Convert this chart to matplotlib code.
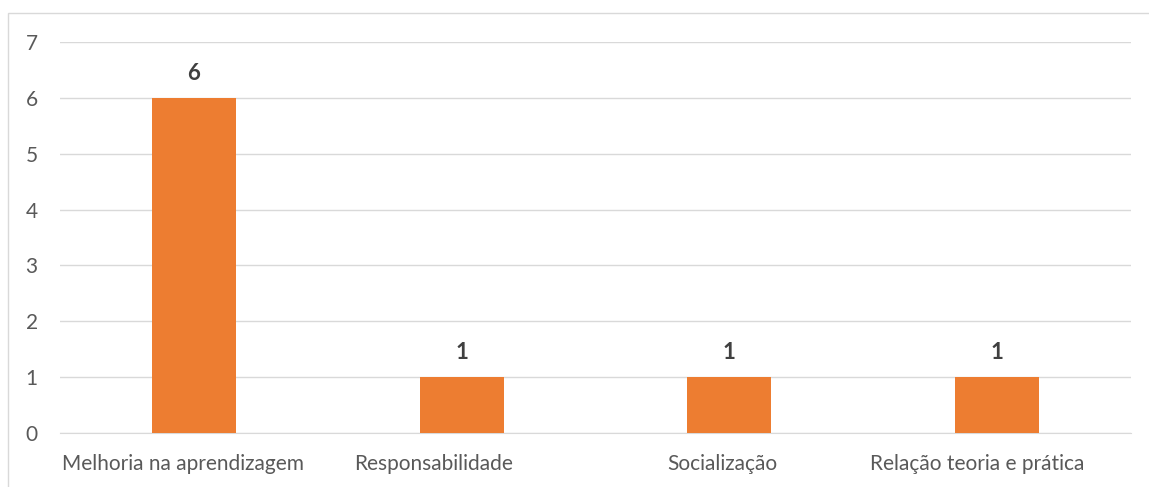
import matplotlib.pyplot as plt
from matplotlib.patches import Rectangle
from matplotlib.transforms import ScaledTranslation

categorias = ['Melhoria na aprendizagem', 'Responsabilidade', 'Socialização', 'Relação teoria e prática']
valores = [6, 1, 1, 1]
y_ticks = [0, 1, 2, 3, 4, 5, 6, 7]

plt.rcParams['font.family'] = ['Lato', 'DejaVu Sans']

W, H = 1149, 487
fig = plt.figure(figsize=(W / 100, H / 100), dpi=100)

# moldura do gráfico (cortada à direita e em baixo)
fig.patches.append(Rectangle((8 / W, -0.1), 1.2, 1 - 13 / H + 0.1, transform=fig.transFigure,
                             fill=False, edgecolor='#D9D9D9', linewidth=1.0))

ax = fig.add_axes([60 / W, 1 - 433 / H, (1131 - 60) / W, (433 - 42) / H])
x = list(range(len(categorias)))
bars = ax.bar(x, valores, width=0.314, color='#ED7D31', zorder=3)
for b, v in zip(bars, valores):
    ax.annotate(str(v), (b.get_x() + b.get_width() / 2, v), xytext=(0, 13),
                textcoords='offset points', ha='center', va='baseline',
                fontsize=16, fontweight='bold', color='#404040')

ax.set_xlim(-0.5, len(categorias) - 0.5)
ax.set_ylim(0, 7)
ax.set_yticks(y_ticks)
ax.set_xticks(x)
ax.set_xticklabels(categorias)
ax.grid(axis='y', color='#D9D9D9', linewidth=1.0, zorder=0)
for s in ['top', 'right', 'left']:
    ax.spines[s].set_visible(False)
ax.spines['bottom'].set_color('#D9D9D9')
ax.tick_params(axis='both', length=0, labelsize=15, colors='#595959')
ax.tick_params(axis='y', pad=16)
ax.tick_params(axis='x', pad=15)

# deslocamento horizontal dos rótulos, como no original
desloc = [-11, -28, -7, -20]
for lab, d in zip(ax.get_xticklabels(), desloc):
    lab.set_transform(lab.get_transform() + ScaledTranslation(d / 100, 0, fig.dpi_scale_trans))

fig.savefig('out.png', dpi=100)
